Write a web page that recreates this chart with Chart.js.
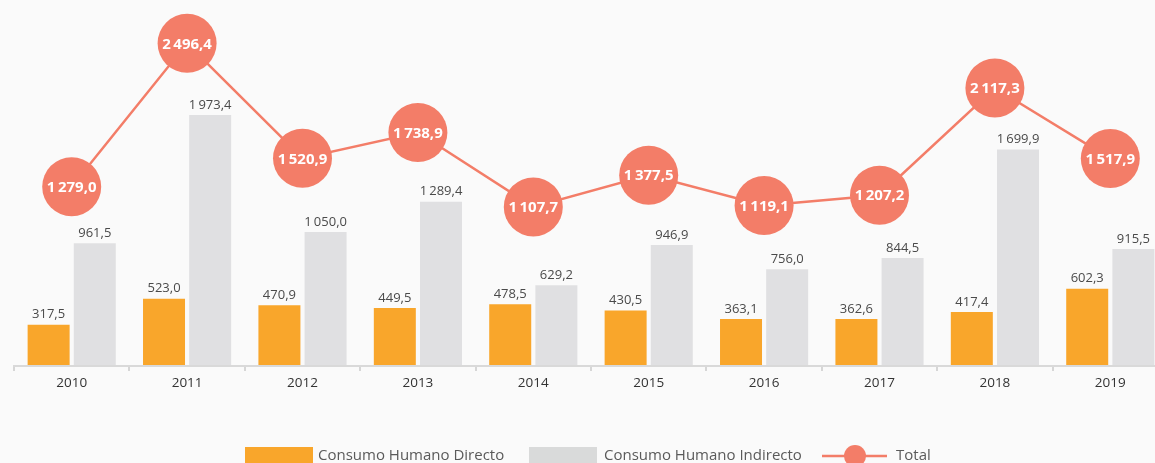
<!DOCTYPE html>
<html lang="es">
<head>
<meta charset="utf-8">
<title>Consumo humano</title>
<script src="https://cdn.jsdelivr.net/npm/chart.js@4/dist/chart.umd.min.js"></script>
<style>
  html, body { margin: 0; padding: 0; background: #fafafa; overflow: hidden; }
  #wrap { width: 1168px; height: 463px; }
  canvas { display: block; }
</style>
</head>
<body>
<div id="wrap"><canvas id="chart" width="1168" height="463"></canvas></div>
<script>
// Years on the category axis
const years = ['2010', '2011', '2012', '2013', '2014', '2015', '2016', '2017', '2018', '2019'];
// Consumo Humano Directo
const directo = [317.5, 523.0, 470.9, 449.5, 478.5, 430.5, 363.1, 362.6, 417.4, 602.3];
// Consumo Humano Indirecto
const indirecto = [961.5, 1973.4, 1050.0, 1289.4, 629.2, 946.9, 756.0, 844.5, 1699.9, 915.5];
// Total
const total = [1279.0, 2496.4, 1520.9, 1738.9, 1107.7, 1377.5, 1119.1, 1207.2, 2117.3, 1517.9];

const seriesNames = ['Consumo Humano Directo', 'Consumo Humano Indirecto', 'Total'];

const ORANGE = '#F9A62B';
const GREY = '#E0E0E2';
const SALMON = '#F37D68';
const FONT = '"Open Sans", "DejaVu Sans", sans-serif';

// "1 279,0" style: thin-space thousands, comma decimals
function fmt(v) {
  const [i, d] = v.toFixed(1).split('.');
  return i.replace(/\B(?=(\d{3})+(?!\d))/g, '\u2009') + ',' + d;
}

const valueLabels = {
  id: 'valueLabels',
  afterDatasetsDraw(chart) {
    const ctx = chart.ctx;
    ctx.save();
    chart.data.datasets.forEach((ds, di) => {
      const meta = chart.getDatasetMeta(di);
      meta.data.forEach((el, i) => {
        const v = ds.data[i];
        ctx.textAlign = 'center';
        ctx.textBaseline = 'middle';
        if (ds.type === 'line') {
          ctx.font = 'bold 15px ' + FONT;
          ctx.fillStyle = '#ffffff';
          ctx.fillText(fmt(v), el.x, el.y + 1);
        } else {
          ctx.font = '13px ' + FONT;
          ctx.fillStyle = '#4a4a4a';
          ctx.fillText(fmt(v), el.x, el.y - 10);
        }
      });
    });
    ctx.restore();
  }
};

// Legend row along the bottom edge
const bottomLegend = {
  id: 'bottomLegend',
  afterDraw(chart) {
    const ctx = chart.ctx;
    const ds = chart.data.datasets;
    const y = 456;
    ctx.save();
    ctx.font = '15px ' + FONT;
    ctx.textBaseline = 'middle';
    ctx.textAlign = 'left';

    ctx.fillStyle = ds[0].backgroundColor;
    ctx.fillRect(245, 447, 68, 20);
    ctx.fillStyle = '#5a5a5a';
    ctx.fillText(ds[0].label, 318, y);

    ctx.fillStyle = '#D9DADA';
    ctx.fillRect(529, 447, 68, 20);
    ctx.fillStyle = '#5a5a5a';
    ctx.fillText(ds[1].label, 604, y);

    ctx.strokeStyle = ds[2].borderColor;
    ctx.lineWidth = 2.5;
    ctx.beginPath();
    ctx.moveTo(822, y);
    ctx.lineTo(887, y);
    ctx.stroke();
    ctx.fillStyle = ds[2].pointBackgroundColor;
    ctx.beginPath();
    ctx.arc(855, y, 11, 0, Math.PI * 2);
    ctx.fill();
    ctx.fillStyle = '#5a5a5a';
    ctx.fillText(ds[2].label, 896, y);
    ctx.restore();
  }
};

new Chart(document.getElementById('chart'), {
  data: {
    labels: years,
    datasets: [
      {
        type: 'bar',
        label: seriesNames[0],
        data: directo,
        backgroundColor: ORANGE,
        yAxisID: 'y',
        order: 2,
        categoryPercentage: 0.8,
        barPercentage: 0.91
      },
      {
        type: 'bar',
        label: seriesNames[1],
        data: indirecto,
        backgroundColor: GREY,
        yAxisID: 'y',
        order: 2,
        categoryPercentage: 0.8,
        barPercentage: 0.91
      },
      {
        type: 'line',
        label: seriesNames[2],
        data: total,
        borderColor: SALMON,
        borderWidth: 2.5,
        pointRadius: 29.5,
        pointHoverRadius: 29.5,
        pointBackgroundColor: SALMON,
        pointBorderWidth: 0,
        tension: 0,
        yAxisID: 'y1',
        order: 0,
        clip: false
      }
    ]
  },
  options: {
    responsive: false,
    animation: false,
    devicePixelRatio: 1,
    layout: { autoPadding: false, padding: { left: 14, right: 0, top: 0, bottom: 0 } },
    plugins: {
      legend: { display: false },
      tooltip: { enabled: false }
    },
    scales: {
      x: {
        grid: {
          offset: true,
          drawOnChartArea: false,
          drawTicks: true,
          tickLength: 5,
          color: '#D6D6D6',
          lineWidth: 2
        },
        border: { display: true, color: '#D9D9D9', width: 2 },
        ticks: {
          color: '#333333',
          font: { family: FONT, size: 13.5 },
          padding: 4
        },
        afterFit(scale) {
          scale.height = 97;
          scale.paddingLeft = 0;
          scale.paddingRight = 0;
        }
      },
      y: {
        display: false,
        min: -7.9,
        max: 2880.8
      },
      y1: {
        display: false,
        min: -242.8,
        max: 2864.2
      }
    }
  },
  plugins: [valueLabels, bottomLegend]
});
</script>
</body>
</html>
